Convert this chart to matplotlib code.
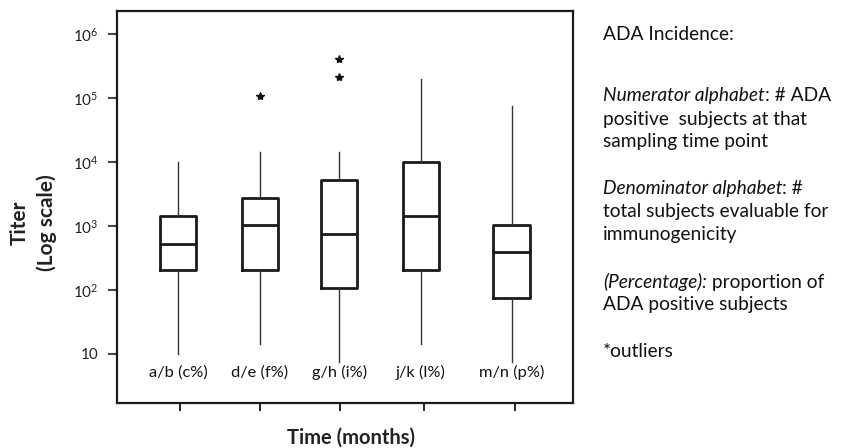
import matplotlib
matplotlib.use("Agg")
import matplotlib.pyplot as plt
from matplotlib.ticker import FixedLocator, NullLocator
import matplotlib.transforms as mtransforms

plt.rcParams['font.family'] = ['Lato', 'DejaVu Sans']
plt.rcParams['mathtext.fontset'] = 'custom'
plt.rcParams['mathtext.rm'] = 'Lato'
plt.rcParams['mathtext.it'] = 'Lato:italic'
plt.rcParams['mathtext.bf'] = 'Lato:bold'

# ---- data ----
group_labels = ["a/b (c%)", "d/e (f%)", "g/h (i%)", "j/k (l%)", "m/n (p%)"]
positions = [1.0, 2.01, 2.99, 4.0, 5.12]
medians = [528, 1020, 740, 1410, 383]
q1 = [203, 203, 106, 203, 75]
q3 = [1413, 2740, 5240, 10000, 1020]
whisker_low = [10, 14.4, 7.4, 14.4, 7.4]
whisker_high = [9800, 14500, 14400, 195000, 75000]
outliers = [[], [107000], [210000, 400000], [], []]

ytick_vals = [10, 100, 1000, 1e4, 1e5, 1e6]
ytick_labels = ["10", r"$\mathregular{10^{2}}$", r"$\mathregular{10^{3}}$",
                r"$\mathregular{10^{4}}$", r"$\mathregular{10^{5}}$",
                r"$\mathregular{10^{6}}$"]

W, H = 845, 448
fig = plt.figure(figsize=(W / 100, H / 100), dpi=100)
ax = fig.add_axes([117 / W, (H - 403) / H, (573 - 117) / W, (403 - 11.5) / H])

stats = []
for i in range(len(group_labels)):
    stats.append(dict(med=medians[i], q1=q1[i], q3=q3[i],
                      whislo=whisker_low[i], whishi=whisker_high[i],
                      fliers=outliers[i]))

ax.bxp(stats, positions=positions, widths=0.45, showcaps=False,
       boxprops=dict(color='#1a1a1a', linewidth=2.0),
       medianprops=dict(color='#1a1a1a', linewidth=2.0),
       whiskerprops=dict(color='#333333', linewidth=1.0),
       flierprops=dict(marker='*', markersize=6, markerfacecolor='#111111',
                       markeredgecolor='#111111', linestyle='none'))

ax.set_yscale('log')
ax.set_ylim(10 ** 0.229, 10 ** 6.352)
ax.set_xlim(0.247, 5.877)

ax.yaxis.set_major_locator(FixedLocator(ytick_vals))
ax.yaxis.set_minor_locator(NullLocator())
ax.set_yticklabels(ytick_labels)
ax.set_xticks([1.02, 2.01, 3.0, 4.04, 5.16])
ax.set_xticklabels([])

ax.tick_params(axis='y', direction='out', length=6.5, width=1.2, pad=7,
               labelsize=11, colors='#222222')
ax.tick_params(axis='x', direction='out', length=5.5, width=1.2, pad=3)
for s in ax.spines.values():
    s.set_linewidth(1.6)
    s.set_color('#1a1a1a')

# group labels inside the plot
trans = mtransforms.blended_transform_factory(ax.transData, ax.transAxes)
for p, lab in zip(positions, group_labels):
    ax.text(p, 0.079, lab, transform=trans, ha='center', va='center',
            fontsize=11.8, color='#111111')

# axis labels
fig.text(20 / W, 1 - 223 / H, "Titer", rotation=90, ha='center', va='center',
         fontsize=15, fontweight='bold', color='#222222')
fig.text(47 / W, 1 - 223 / H, "(Log scale)", rotation=90, ha='center', va='center',
         fontsize=15, fontweight='bold', color='#222222')
fig.text(351 / W, 1 - 438 / H, "Time (months)", ha='center', va='center',
         fontsize=14.5, fontweight='bold', color='#222222')

# right-hand description
x0 = 603 / W
fs = 13.8
lines = [
    (33, [("ADA Incidence:", 'normal')]),
    (94, [("Numerator alphabet", 'italic'), (": # ADA", 'normal')]),
    (118, [("positive  subjects at that", 'normal')]),
    (140, [("sampling time point", 'normal')]),
    (187, [("Denominator alphabet", 'italic'), (": #", 'normal')]),
    (210, [("total subjects evaluable for", 'normal')]),
    (233, [("immunogenicity", 'normal')]),
    (280, [("(Percentage):", 'italic'), (" proportion of", 'normal')]),
    (303, [("ADA positive subjects", 'normal')]),
    (350, [("*outliers", 'normal')]),
]
for ypix, parts in lines:
    prev = None
    for txt, style in parts:
        if prev is None:
            prev = fig.text(x0, 1 - ypix / H, txt, ha='left', va='center_baseline',
                            fontsize=fs, fontstyle=style, color='#111111')
        else:
            prev = fig.add_artist(matplotlib.text.Annotation(
                txt, xy=(1, 0), xycoords=prev, ha='left', va='bottom',
                fontsize=fs, fontstyle=style, color='#111111'))

fig.savefig("out.png", dpi=100)
